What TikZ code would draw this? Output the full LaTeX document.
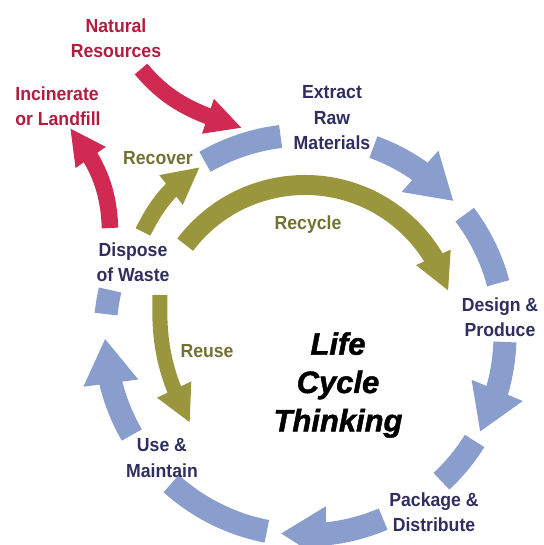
\documentclass[tikz,border=0pt]{standalone}
\usepackage{fontspec}
\usetikzlibrary{arrows.meta,bending}
\usepackage{xcolor}
\definecolor{ringblue}{RGB}{137,158,205}
\definecolor{loopgreen}{RGB}{153,150,62}
\definecolor{wastered}{RGB}{208,42,82}
\definecolor{navytext}{RGB}{48,45,95}
\definecolor{redtext}{RGB}{178,28,62}
\definecolor{greentext}{RGB}{112,114,50}
\newfontfamily\lblfont[FakeStretch=0.93]{Liberation Sans}
\newfontfamily\ttlfont[FakeBold=1.5]{Liberation Sans}

\begin{document}
\begin{tikzpicture}[x=0.2mm,y=0.2mm,
  lbl/.style={font=\lblfont\bfseries\fontsize{10.8}{14.5}\selectfont,align=center,inner sep=0pt},
  ringarc/.style={ringblue,line width=4.6mm},
  ringarrow/.style={ringarc,-{Triangle[length=9mm,width=10.4mm]}},
  greenarrow/.style={loopgreen,-{Triangle[length=7.4mm,width=7mm]}},
  redarrow/.style={wastered,line width=3.3mm,-{Triangle[length=7.2mm,width=6.8mm]}}]
  \useasboundingbox (0,0) rectangle (543,545);
  \coordinate (hub) at (305,210);

  \foreach \a/\b in {120/97,37/15,-32/-47,-101/-132,174/167}
    \draw[ringarc] (hub) ++(\a:200) arc[start angle=\a,end angle=\b,radius=200];
  \foreach \a/\b in {70/42,-2/-29,-67/-97,-150/-179}
    \draw[ringarrow] (hub) ++(\a:200) arc[start angle=\a,end angle=\b,radius=200];

  \node[lbl,navytext] (extract) at (332,427) {Extract\\Raw\\Materials};
  \node[lbl,navytext] (design) at (500,228) {Design \&\\Produce};
  \node[lbl,navytext] (package) at (434,33) {Package \&\\Distribute};
  \node[lbl,navytext] (use) at (162,87) {Use \&\\Maintain};
  \node[lbl,navytext] (dispose) at (133,283) {Dispose\\of Waste};
  \node[lbl,redtext] (natural) at (116,507) {Natural\\Resources};
  \node[lbl,redtext,align=left,anchor=west] (incinerate) at (15,439) {Incinerate\\or Landfill};
  \node[lbl,greentext] (recover) at (158,387) {Recover};
  \node[lbl,greentext] (recycle) at (308,320) {Recycle};
  \node[lbl,greentext] (reuse) at (207,194) {Reuse};
  \node[font=\ttlfont\bfseries\itshape\fontsize{17.6}{21.8}\selectfont,align=center,inner sep=0pt] (title) at (338,160) {Life\\Cycle\\Thinking};

  \draw[greenarrow,line width=4mm] (hub) ++(143:150) arc[start angle=143,end angle=17,radius=150];
  \coordinate (rc1) at (143,313);
  \coordinate (rc2) at (200,378);
  \draw[greenarrow,line width=3.3mm] (rc1) to[bend left=15] (rc2);
  \coordinate (ru1) at (160,250);
  \coordinate (ru2) at (190,122);
  \draw[greenarrow,line width=3mm] (ru1) to[out=-92,in=118] (ru2);

  \coordinate (nr1) at (141,476);
  \coordinate (nr2) at (242,417);
  \draw[redarrow] (nr1) to[out=-50,in=162] (nr2);
  \coordinate (in1) at (110,317);
  \coordinate (in2) at (70,417);
  \draw[redarrow] (in1) to[out=92,in=-52] (in2);
\end{tikzpicture}
\end{document}
